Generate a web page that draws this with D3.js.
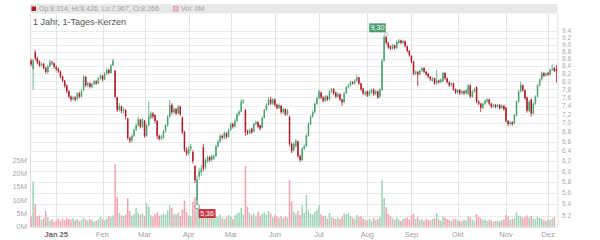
<!DOCTYPE html>
<html>
<head>
<meta charset="utf-8">
<script src="https://cdn.jsdelivr.net/npm/d3@7"></script>
<style>
html,body{margin:0;padding:0;background:#fff;}
svg{display:block;font-family:"Liberation Sans",Arial,sans-serif;}
</style>
</head>
<body>
<svg id="chart" width="600" height="240"></svg>
<script>
// daily candles, Dec 10 2024 .. Dec 5 2025
var opens = [8.55,8.32,8.78,8.62,8.52,8.42,8.46,8.35,8.24,8.4,
 8.5,8.48,8.38,8.32,8.26,8.12,8.02,7.9,7.75,7.62,
 7.56,7.6,7.56,7.7,7.62,7.78,8.12,7.9,7.95,7.86,
 7.93,8.0,7.95,8.08,8.15,8.05,8.2,8.3,8.22,8.42,
 8.27,7.6,7.3,7.38,7.28,7.3,7.1,6.68,6.62,6.72,
 6.85,6.95,7.08,6.92,7.05,6.72,6.95,7.12,7.22,7.18,
 7.05,6.72,6.66,6.68,6.82,6.95,7.15,7.42,7.25,7.32,
 7.22,7.38,7.12,6.8,6.42,6.35,6.45,6.38,6.1,5.48,
 5.9,5.98,6.48,6.08,6.2,6.28,6.22,6.25,6.3,6.5,
 6.6,6.72,6.68,6.78,6.7,6.85,6.98,6.92,7.05,7.2,
 7.26,7.48,7.3,6.82,6.78,6.88,6.82,6.98,7.02,6.95,
 6.9,7.12,7.3,7.42,7.55,7.45,7.55,7.42,7.35,7.4,
 7.25,7.32,7.2,7.15,6.55,6.42,6.5,6.6,6.3,6.22,
 6.45,6.5,6.72,6.98,7.15,7.25,7.45,7.58,7.72,7.6,
 7.52,7.62,7.55,7.75,7.8,7.72,7.62,7.68,7.55,7.48,
 7.7,7.85,7.9,7.98,7.95,8.02,8.1,7.95,7.82,7.68,
 7.75,7.65,7.72,7.8,7.68,7.75,7.62,7.78,8.55,9.22,
 9.05,8.95,8.88,8.98,8.9,9.05,9.12,9.05,9.1,8.95,
 8.82,8.68,8.52,8.2,8.25,8.18,8.28,8.35,8.25,8.2,
 8.12,8.02,8.08,7.95,8.02,7.98,8.0,8.22,8.08,7.98,
 7.9,7.95,7.8,7.72,7.78,7.7,7.75,7.7,7.68,7.9,
 7.62,7.75,7.85,7.5,7.45,7.35,7.45,7.5,7.55,7.45,
 7.38,7.42,7.38,7.42,7.35,7.4,7.35,7.05,6.98,7.02,
 7.0,7.18,7.5,7.75,7.9,7.78,7.6,7.28,7.55,7.22,
 7.45,7.62,7.9,8.05,8.22,8.15,8.22,8.18,8.3,8.35,
 8.314];
var highs = [8.6,8.6,8.85,8.66,8.56,8.5,8.49,8.38,8.44,8.57,
 8.55,8.5,8.42,8.36,8.28,8.15,8.04,7.92,7.78,7.65,
 7.64,7.63,7.73,7.74,7.8,8.16,8.14,7.99,7.98,7.96,
 8.04,8.03,8.11,8.19,8.17,8.24,8.34,8.33,8.46,8.6,
 8.3,7.62,7.46,7.41,7.36,7.32,7.12,6.7,6.76,6.88,
 6.99,7.15,7.1,7.12,7.07,6.99,7.5,7.27,7.25,7.2,
 7.07,6.75,6.74,6.85,6.98,7.18,7.54,7.46,7.36,7.35,
 7.42,7.4,7.15,6.83,6.48,6.5,6.55,6.42,6.12,5.92,
 6.06,6.12,6.55,6.26,6.31,6.3,6.33,6.34,6.53,6.64,
 6.76,6.75,6.82,6.8,6.88,7.02,7.01,7.09,7.24,7.3,
 7.56,7.56,7.32,6.86,6.88,6.9,7.01,7.06,7.04,6.97,
 7.15,7.33,7.46,7.6,7.62,7.58,7.57,7.45,7.45,7.42,
 7.35,7.34,7.33,7.17,6.58,6.58,6.65,6.62,6.33,6.48,
 6.54,6.76,7.01,7.18,7.29,7.48,7.62,7.79,7.74,7.63,
 7.66,7.65,7.78,7.84,7.83,7.74,7.72,7.7,7.57,7.73,
 7.88,7.94,8.02,8.01,8.06,8.17,8.12,7.97,7.84,7.76,
 7.77,7.78,7.82,7.82,7.78,7.77,7.83,8.6,9.26,9.3,
 9.08,8.98,9.02,9.0,9.12,9.16,9.14,9.14,9.12,8.97,
 8.84,8.7,8.54,8.29,8.27,8.31,8.38,8.37,8.27,8.22,
 8.14,8.11,8.1,8.3,8.05,8.08,8.25,8.24,8.1,8.0,
 7.98,7.97,7.82,7.81,7.8,7.78,7.77,7.81,7.93,7.92,
 7.78,7.84,7.87,7.53,7.47,7.48,7.55,7.58,7.57,7.47,
 7.45,7.44,7.45,7.44,7.43,7.42,7.37,7.07,7.05,7.04,
 7.21,7.53,7.78,8.0,7.92,7.8,7.62,7.53,7.57,7.48,
 7.65,7.93,8.08,8.26,8.24,8.23,8.25,8.33,8.45,8.37,
 8.426];
var lows = [8.4,7.78,8.55,8.45,8.38,8.38,8.31,8.2,8.2,8.37,
 8.43,8.33,8.27,8.22,8.08,7.98,7.84,7.7,7.58,7.5,
 7.52,7.5,7.53,7.58,7.6,7.76,7.86,7.86,7.82,7.83,
 7.9,7.91,7.93,8.04,8.0,8.03,8.17,8.18,8.2,8.4,
 7.58,7.25,7.26,7.23,7.22,7.08,6.64,6.57,6.58,6.69,
 6.82,6.92,6.88,6.89,6.68,6.7,6.93,7.08,7.1,7.0,
 6.65,6.62,6.62,6.65,6.79,6.92,7.12,7.2,7.21,7.18,
 7.2,7.16,6.76,6.38,6.3,6.31,6.4,6.15,5.78,5.36,
 5.84,5.92,6.0,6.04,6.16,6.18,6.19,6.22,6.28,6.47,
 6.57,6.64,6.65,6.66,6.68,6.83,6.88,6.9,7.02,7.16,
 7.24,7.44,6.72,6.74,6.75,6.76,6.8,6.95,6.88,6.84,
 6.88,7.1,7.28,7.4,7.42,7.42,7.38,7.31,7.32,7.21,
 7.22,7.16,7.17,6.5,6.36,6.39,6.47,6.26,6.18,6.2,
 6.42,6.48,6.7,6.95,7.12,7.22,7.42,7.55,7.56,7.48,
 7.49,7.51,7.53,7.71,7.66,7.58,7.59,7.51,7.4,7.46,
 7.68,7.82,7.87,7.91,7.92,7.99,7.91,7.76,7.66,7.64,
 7.61,7.62,7.69,7.64,7.65,7.56,7.59,7.76,8.52,9.0,
 8.88,8.84,8.85,8.86,8.88,9.02,9.01,9.02,8.92,8.78,
 8.66,8.48,8.16,8.16,7.88,8.15,8.25,8.21,8.14,8.08,
 8.01,7.99,7.91,7.92,7.94,7.95,7.98,8.04,7.94,7.86,
 7.87,7.76,7.68,7.69,7.66,7.67,7.66,7.67,7.66,7.58,
 7.59,7.72,7.46,7.41,7.25,7.32,7.42,7.47,7.41,7.34,
 7.35,7.34,7.35,7.31,7.32,7.28,7.01,6.93,6.95,6.94,
 6.97,7.15,7.47,7.72,7.74,7.54,7.24,7.25,7.15,7.19,
 7.42,7.6,7.87,8.02,8.11,8.12,8.14,8.15,8.27,8.24,
 7.967];
var closes = [8.45,8.55,8.62,8.5,8.42,8.46,8.35,8.25,8.4,8.52,
 8.48,8.38,8.32,8.26,8.12,8.02,7.88,7.75,7.62,7.55,
 7.6,7.55,7.7,7.62,7.76,8.12,7.9,7.95,7.86,7.93,
 8.0,7.95,8.08,8.15,8.05,8.2,8.3,8.22,8.42,8.55,
 7.62,7.3,7.4,7.28,7.32,7.15,6.68,6.62,6.72,6.85,
 6.95,7.08,6.92,7.08,6.72,6.95,7.15,7.22,7.15,7.05,
 6.72,6.66,6.7,6.82,6.95,7.15,7.42,7.25,7.32,7.22,
 7.38,7.2,6.8,6.42,6.35,6.45,6.5,6.2,5.83,5.85,
 6.0,6.05,6.05,6.22,6.28,6.22,6.3,6.3,6.5,6.6,
 6.72,6.68,6.78,6.7,6.85,6.98,6.92,7.05,7.2,7.26,
 7.5,7.52,6.8,6.78,6.85,6.8,6.98,7.02,6.92,6.88,
 7.12,7.3,7.42,7.55,7.45,7.55,7.42,7.35,7.42,7.25,
 7.32,7.2,7.3,6.55,6.4,6.55,6.62,6.3,6.22,6.45,
 6.5,6.72,6.98,7.15,7.25,7.45,7.58,7.75,7.6,7.52,
 7.62,7.55,7.75,7.8,7.7,7.62,7.68,7.55,7.48,7.7,
 7.85,7.9,7.98,7.95,8.02,8.1,7.95,7.8,7.7,7.72,
 7.65,7.75,7.78,7.68,7.75,7.6,7.8,8.55,9.22,9.05,
 8.92,8.88,8.98,8.9,9.08,9.12,9.05,9.1,8.95,8.82,
 8.7,8.52,8.2,8.25,8.18,8.28,8.35,8.25,8.18,8.12,
 8.05,8.08,7.95,8.02,7.98,8.05,8.22,8.08,7.98,7.9,
 7.95,7.8,7.72,7.78,7.7,7.75,7.7,7.78,7.9,7.62,
 7.75,7.8,7.5,7.45,7.35,7.45,7.52,7.55,7.45,7.38,
 7.42,7.38,7.42,7.35,7.4,7.32,7.05,6.98,7.02,6.98,
 7.18,7.5,7.75,7.92,7.78,7.58,7.28,7.5,7.22,7.45,
 7.62,7.9,8.05,8.22,8.15,8.2,8.18,8.3,8.33,8.28,
 8.266];
// volume in millions
var volumes = [3.8,16.9,8.4,3.8,4.2,2.6,3.2,5.9,3.5,2.2,
 2.8,1.8,2.4,3.0,2.2,3.1,2.5,3.3,2.9,2.6,
 3.2,2.4,2.8,2.0,2.5,3.4,2.7,2.3,2.9,2.6,
 1.9,2.2,2.8,3.6,2.9,2.4,3.1,4.1,3.5,4.2,
 23.4,11.2,5.1,4.3,4.0,4.6,10.6,5.8,4.2,4.8,
 7.0,5.2,4.5,4.9,4.1,8.9,7.6,4.3,3.8,4.6,
 5.4,4.2,4.4,4.9,4.6,6.1,8.1,7.0,4.8,4.5,
 5.2,4.0,6.5,9.7,5.5,4.2,3.9,9.4,11.0,11.2,
 8.0,5.5,6.5,4.8,3.9,3.5,4.6,3.2,4.1,3.8,
 4.5,3.3,2.9,3.6,4.4,3.8,2.9,4.2,4.8,5.3,
 7.0,4.6,22.8,7.5,5.2,4.3,4.9,3.8,5.6,4.2,
 4.8,5.4,4.5,5.8,4.9,3.6,4.3,3.9,3.4,4.1,
 3.2,3.8,3.5,17.5,9.4,5.6,4.8,5.9,4.4,8.1,
 5.3,11.9,6.2,5.0,4.6,5.5,6.3,8.1,4.7,3.9,
 4.2,3.1,5.1,3.6,3.3,2.8,3.5,2.9,3.8,5.0,
 4.6,5.2,4.1,3.4,3.0,4.4,3.7,3.9,3.1,2.6,
 2.4,2.9,2.2,3.3,2.5,2.8,3.6,17.5,10.7,7.3,
 4.8,3.9,3.2,2.6,3.5,2.7,2.2,2.9,3.1,3.4,
 2.7,4.3,4.8,2.9,3.6,2.4,2.8,2.2,3.0,2.6,
 2.4,2.9,3.2,5.1,2.7,2.3,3.8,3.4,2.9,2.6,
 2.1,2.8,3.0,2.4,2.2,1.9,2.6,2.3,3.9,3.5,
 2.7,2.0,4.8,3.6,3.1,2.5,2.8,2.2,2.6,2.4,
 1.8,2.1,2.3,2.0,2.5,2.7,4.4,3.8,2.6,2.9,
 3.4,5.3,4.1,3.9,3.2,3.6,4.2,3.5,4.0,3.1,
 2.8,3.7,3.3,3.0,2.4,2.2,2.7,2.5,3.2,3.5,
 0];

var holidays = ["2024-12-24","2024-12-25","2024-12-26","2024-12-31","2025-01-01","2025-04-18","2025-04-21","2025-05-01"];
var monthLabels = ["Jan 25","Feb","Mar","Apr","Mai","Jun","Jul","Aug","Sep","Okt","Nov","Dez"];
var priceTicks = [5.2,5.4,5.6,5.8,6.0,6.2,6.4,6.6,6.8,7.0,7.2,7.4,7.6,7.8,8.0,8.2,8.4,8.6,8.8,9.0,9.2,9.4];
var volTicks = [0,5,10,15,20,25];

// trading calendar
var fmt = d3.utcFormat("%Y-%m-%d");
var days = [];
for (var d = new Date(Date.UTC(2024,11,10)); d <= new Date(Date.UTC(2025,11,5)); d = d3.utcDay.offset(d, 1)) {
  var wd = d.getUTCDay();
  if (wd === 0 || wd === 6) continue;
  if (holidays.indexOf(fmt(d)) >= 0) continue;
  days.push(d);
}

var n = closes.length;
var candles = d3.range(n).map(function(i) {
  return {i: i, date: days[i], o: opens[i], h: highs[i], l: lows[i], c: closes[i], v: volumes[i]};
});

var L = 30, R = 557.5, T = 14, B = 227;
var svg = d3.select("#chart");

var x = d3.scaleBand().domain(d3.range(n)).range([L, R]).padding(0);
var step = x.step();
var cx = function(i) { return x(i) + step / 2; };
var y = d3.scaleLog().domain([5.2, 9.4]).range([216, 31]);
var yv = d3.scaleLinear().domain([0, 25]).range([226.7, 160]);

var green = "#4fa274", red = "#ad1d27";

// month starts
var monthStarts = [];
for (var i = 1; i < n; i++) {
  if (candles[i].date.getUTCMonth() !== candles[i-1].date.getUTCMonth()) monthStarts.push(i);
}

// grid
var grid = svg.append("g");
grid.selectAll(".hg").data(priceTicks).enter().append("line")
  .attr("x1", L).attr("x2", R)
  .attr("y1", function(d) { return Math.round(y(d)) + 0.5; })
  .attr("y2", function(d) { return Math.round(y(d)) + 0.5; })
  .attr("stroke", "#ebebeb").attr("stroke-width", 1);
grid.selectAll(".vg").data(monthStarts).enter().append("line")
  .attr("x1", function(d) { return Math.round(cx(d)) + 0.5; })
  .attr("x2", function(d) { return Math.round(cx(d)) + 0.5; })
  .attr("y1", T).attr("y2", B)
  .attr("stroke", "#e4e4e4").attr("stroke-width", 1);
grid.append("line").attr("x1", L + 0.5).attr("x2", L + 0.5).attr("y1", T).attr("y2", B)
  .attr("stroke", "#e0e0e0");
grid.append("line").attr("x1", R + 0.5).attr("x2", R + 0.5).attr("y1", T).attr("y2", B)
  .attr("stroke", "#e0e0e0");
grid.append("line").attr("x1", L).attr("x2", R).attr("y1", B + 0.5).attr("y2", B + 0.5)
  .attr("stroke", "#e0e0e0");

// header band
svg.append("rect").attr("x", L).attr("y", 4).attr("width", R - L).attr("height", 9.5).attr("fill", "#e8e8e8");
var last = candles[n - 1];
svg.append("rect").attr("x", 31.5).attr("y", 6.5).attr("width", 4.5).attr("height", 4.5).attr("fill", red);
svg.append("text").attr("x", 39).attr("y", 11.3).attr("font-size", 7).attr("fill", "#a0a0a0")
  .text("Op:" + last.o + ", Hi:" + last.h + ", Lo:" + last.l + ", Cl:" + last.c);
svg.append("rect").attr("x", 173.5).attr("y", 6.5).attr("width", 4.5).attr("height", 4.5)
  .attr("fill", "#f4c2c9").attr("stroke", "#c98a93").attr("stroke-width", 0.7);
svg.append("text").attr("x", 181).attr("y", 11.3).attr("font-size", 7).attr("fill", "#a0a0a0")
  .text("Vol: " + Math.round(last.v) + "M");

svg.append("text").attr("x", 33).attr("y", 25).attr("font-size", 9).attr("fill", "#555")
  .text("1 Jahr, 1-Tages-Kerzen");

// volume bars
var bw = step * 0.72;
svg.append("g").selectAll("rect").data(candles).enter().append("rect")
  .attr("x", function(d) { return cx(d.i) - bw / 2; })
  .attr("width", bw)
  .attr("y", function(d) { return yv(d.v); })
  .attr("height", function(d) { return yv(0) - yv(d.v); })
  .attr("fill", function(d) { return d.c >= d.o ? "#9fd3b7" : "#f2a3af"; });

// candles
var cg = svg.append("g").selectAll("g").data(candles).enter().append("g");
cg.append("line")
  .attr("x1", function(d) { return cx(d.i); }).attr("x2", function(d) { return cx(d.i); })
  .attr("y1", function(d) { return y(d.h); }).attr("y2", function(d) { return y(d.l); })
  .attr("stroke", function(d) { return d.c >= d.o ? green : red; }).attr("stroke-width", 0.8);
cg.append("rect")
  .attr("x", function(d) { return cx(d.i) - bw / 2; })
  .attr("width", bw)
  .attr("y", function(d) { return y(Math.max(d.o, d.c)); })
  .attr("height", function(d) { return Math.max(0.8, Math.abs(y(d.o) - y(d.c))); })
  .attr("fill", function(d) { return d.c >= d.o ? green : red; });

// axes labels
var comma = function(v) { return d3.format(".1f")(v).replace(".", ","); };
svg.append("g").selectAll("text").data(priceTicks).enter().append("text")
  .attr("x", 562).attr("y", function(d) { return y(d); }).attr("dy", "0.35em")
  .attr("font-size", 6.5).attr("fill", "#a8a8a8").text(comma);
svg.append("g").selectAll("text").data(volTicks).enter().append("text")
  .attr("x", 27).attr("y", function(d) { return yv(d); }).attr("dy", "0.35em")
  .attr("text-anchor", "end").attr("font-size", 7.5).attr("fill", "#a8a8a8")
  .text(function(d) { return d + "M"; });
svg.append("g").selectAll("text").data(monthStarts).enter().append("text")
  .attr("x", function(d) { return cx(d); }).attr("y", 236.5)
  .attr("text-anchor", "middle").attr("font-size", 7.5)
  .attr("font-weight", function(d, k) { return k === 0 ? "bold" : "normal"; })
  .attr("fill", function(d, k) { return k === 0 ? "#666" : "#a0a0a0"; })
  .text(function(d, k) { return monthLabels[k]; });

// max / min markers
var maxC = candles.reduce(function(a, b) { return b.h > a.h ? b : a; });
var minC = candles.reduce(function(a, b) { return b.l < a.l ? b : a; });
var mx = cx(maxC.i), my = y(maxC.h);
svg.append("rect").attr("x", mx - 17).attr("y", my - 11).attr("width", 16.5).attr("height", 9)
  .attr("fill", "#4b9d70");
svg.append("text").attr("x", mx - 8.75).attr("y", my - 6.5).attr("dy", "0.35em")
  .attr("text-anchor", "middle").attr("font-size", 7).attr("fill", "#fff").text(d3.format(".2f")(maxC.h).replace(".", ","));
svg.append("circle").attr("cx", mx).attr("cy", my).attr("r", 1.8).attr("fill", "#fff").attr("stroke", "#999").attr("stroke-width", 0.7);
var nx = cx(minC.i), ny = y(minC.l);
svg.append("rect").attr("x", nx + 1.5).attr("y", ny + 2.5).attr("width", 17).attr("height", 9)
  .attr("fill", "#c4393f");
svg.append("text").attr("x", nx + 10).attr("y", ny + 7).attr("dy", "0.35em")
  .attr("text-anchor", "middle").attr("font-size", 7).attr("fill", "#fff").text(d3.format(".2f")(minC.l).replace(".", ","));
svg.append("circle").attr("cx", nx).attr("cy", ny).attr("r", 2.3).attr("fill", "#fff").attr("stroke", "#888").attr("stroke-width", 0.8);
</script>
</body>
</html>
